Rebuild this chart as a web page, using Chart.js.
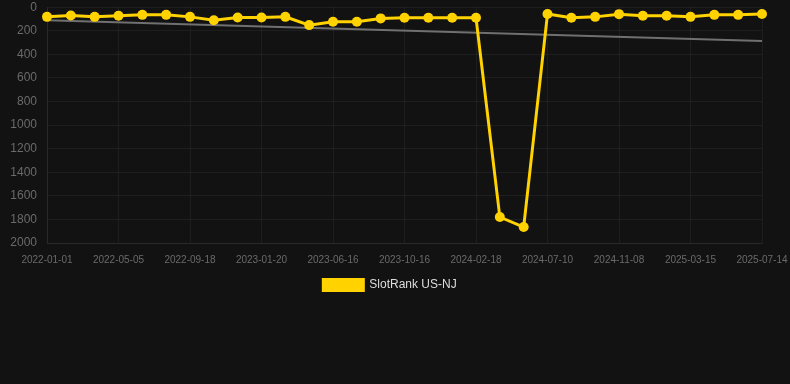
<!DOCTYPE html>
<html>
<head>
<meta charset="utf-8">
<script src="https://cdn.jsdelivr.net/npm/chart.js@4"></script>
<style>
  html, body { margin: 0; padding: 0; background: #121212; }
  #wrap { width: 790px; height: 301px; position: relative; }
</style>
</head>
<body>
<div id="wrap"><canvas id="myChart"></canvas></div>
<script>
// dates on the x axis (only every third one is labelled)
var dates = [
    '2022-01-01', '2022-02-11', '2022-03-24', '2022-05-05', '2022-06-19', '2022-08-03',
    '2022-09-18', '2022-10-29', '2022-12-10', '2023-01-20', '2023-03-11', '2023-04-29',
    '2023-06-16', '2023-07-26', '2023-09-05', '2023-10-16', '2023-11-27', '2024-01-07',
    '2024-02-18', '2024-03-30', '2024-05-20', '2024-07-10', '2024-08-19', '2024-09-28',
    '2024-11-08', '2024-12-23', '2025-02-06', '2025-03-15', '2025-04-25', '2025-06-04',
    '2025-07-14'
];
// SlotRank US-NJ
var rank = [
    82, 70, 82, 73, 65, 65, 82, 110, 87, 87, 82, 152, 124, 124, 95, 90,
    90, 90, 90, 1780, 1865, 57, 90, 82, 59, 73, 73, 82, 65, 65, 57
];
// trend line, just the two ends
var trend = [110];
for (var i = 1; i < dates.length - 1; i++) trend.push(null);
trend.push(287);

var yTicks = { min: 0, max: 2000, step: 200 };

var gridColor = 'rgba(255,255,255,0.05)';

var ctx = document.getElementById('myChart').getContext('2d');
var chart = new Chart(ctx, {
    type: 'line',
    data: {
        labels: dates,
        datasets: [{
            label: 'SlotRank US-NJ',
            data: rank,
            borderColor: '#FFD200',
            backgroundColor: '#FFD200',
            borderWidth: 3,
            pointRadius: 5,
            pointBackgroundColor: '#FFD200',
            pointBorderWidth: 0,
            tension: 0,
            order: 1
        }, {
            label: 'trend',
            data: trend,
            spanGaps: true,
            borderColor: '#707070',
            borderWidth: 2,
            pointRadius: 0,
            order: 2
        }]
    },
    options: {
        responsive: true,
        maintainAspectRatio: false,
        animation: false,
        layout: { padding: { left: -4, right: 6, top: -1, bottom: 0 } },
        plugins: {
            legend: {
                position: 'bottom',
                labels: {
                    color: '#dddddd',
                    font: { family: 'Liberation Sans', size: 12 },
                    boxWidth: 40,
                    boxHeight: 11,
                    padding: 13,
                    filter: function(item) { return item.text !== 'trend'; }
                }
            },
            tooltip: { enabled: false }
        },
        scales: {
            x: {
                offset: false,
                grid: { color: gridColor, drawTicks: true, tickLength: 11, tickColor: 'transparent' },
                border: { color: gridColor },
                afterFit: function(scale) { scale.paddingRight = 28; },
                ticks: {
                    autoSkip: false,
                    maxRotation: 0,
                    padding: 0,
                    color: '#6a6a6a',
                    font: { family: 'Liberation Sans', size: 10 },
                    callback: function(val, idx) {
                        return idx % 3 === 0 ? this.getLabelForValue(val) : null;
                    }
                }
            },
            y: {
                reverse: true,
                min: yTicks.min,
                max: yTicks.max,
                grid: { color: gridColor, drawTicks: true, tickLength: 10, tickColor: 'transparent' },
                border: { color: gridColor },
                afterFit: function(scale) { scale.width = 51; },
                ticks: {
                    stepSize: yTicks.step,
                    padding: 0,
                    color: '#6a6a6a',
                    font: { family: 'Liberation Sans', size: 12 },
                    callback: function(val) { return String(val); }
                }
            }
        }
    }
});
</script>
</body>
</html>
